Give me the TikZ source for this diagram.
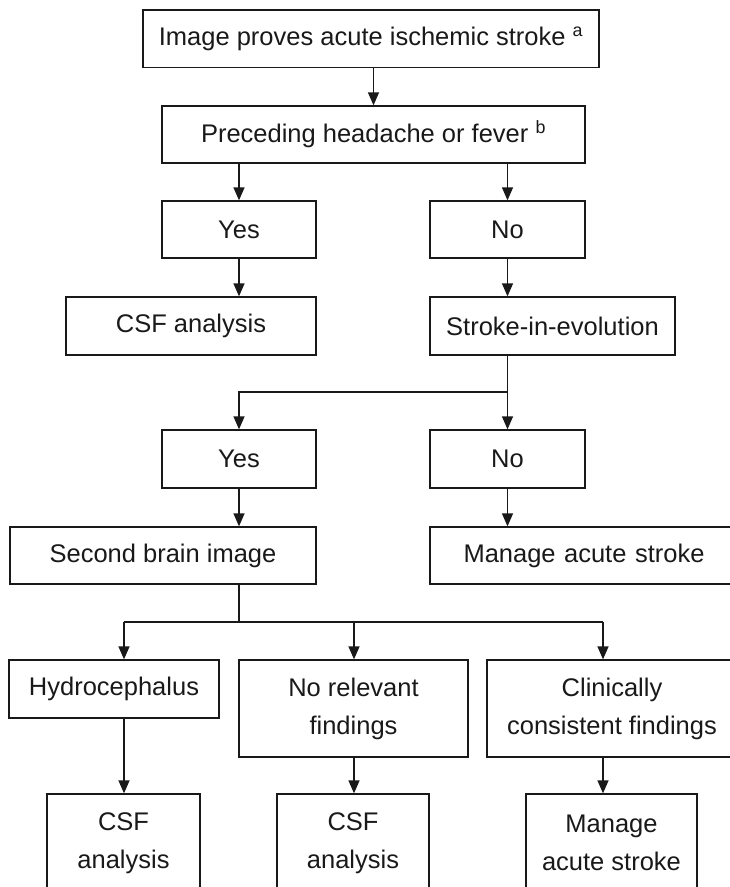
\documentclass[tikz,border=0pt]{standalone}
\usepackage{fontspec}
\setmainfont{Liberation Sans}
\usetikzlibrary{arrows.meta}
\begin{document}
\begin{tikzpicture}[x=1pt,y=-1pt,
  box/.style={draw=black!90, line width=1.3pt, align=center, inner sep=0pt,
    font=\fontsize{25.5}{38}\selectfont, text=black!90},
  arr/.style={draw=black!90, line width=1.3pt, -{Triangle[length=13pt,width=11pt]}},
  ln/.style={draw=black!90, line width=1.3pt}]
\useasboundingbox (0,0) rectangle (730,887);
\clip (0,0) rectangle (730,887);
\node[box, minimum width=456pt, minimum height=57.7pt] (top) at (371,38.8) {Image proves acute ischemic stroke \textsuperscript{a}};
\node[box, minimum width=423pt, minimum height=57pt] (pre) at (373.5,134.5) {Preceding headache or fever \textsuperscript{b}};
\node[box, minimum width=154pt, minimum height=57pt] (yes1) at (239,229.5) {Yes};
\node[box, minimum width=155pt, minimum height=57pt] (no1) at (507.5,229.5) {No};
\node[box, minimum width=250pt, minimum height=58pt] (csf1) at (191,326) {CSF analysis};
\node[box, minimum width=245pt, minimum height=58pt] (sie) at (552.5,326) {Stroke-in-evolution};
\node[box, minimum width=154pt, minimum height=58pt] (yes2) at (239,459) {Yes};
\node[box, minimum width=155pt, minimum height=58pt] (no2) at (507.5,459) {No};
\node[box, minimum width=306pt, minimum height=57pt] (sbi) at (163,555.5) {Second brain image};
\node[box, minimum width=320pt, minimum height=57pt, text width=320pt] (mas) at (590,555.5) {\hspace*{-12pt}Manage acute stroke};
\node[box, minimum width=210pt, minimum height=58pt] (hyd) at (114,689) {Hydrocephalus};
\node[box, minimum width=229pt, minimum height=97pt] (nrf) at (353.5,708.5) {No relevant\\findings};
\node[box, minimum width=250pt, minimum height=97pt] (ccf) at (612,708.5) {Clinically\\consistent findings};
\node[box, minimum width=153pt, minimum height=98pt] (csf2) at (123.5,843) {CSF\\analysis};
\node[box, minimum width=152pt, minimum height=98pt] (csf3) at (353,843) {CSF\\analysis};
\node[box, minimum width=171pt, minimum height=98pt] (mas2) at (611.5,843) {Manage\\acute stroke};
\coordinate (j1) at (507.5,392);
\coordinate (j2) at (239,622);
\coordinate (a1) at (124,622);
\coordinate (a2) at (354,622);
\coordinate (a3) at (603,622);
\draw[arr] (top.south -| pre) -- (pre.north);
\draw[arr] (pre.south -| yes1) -- (yes1.north);
\draw[arr] (pre.south -| no1) -- (no1.north);
\draw[arr] (yes1.south) -- (yes1.south |- csf1.north);
\draw[arr] (no1.south) -- (no1.south |- sie.north);
\draw[ln] (sie.south -| j1) -- (j1);
\draw[arr] (j1) -| (yes2.north);
\draw[arr] (j1) -- (no2.north);
\draw[arr] (yes2.south) -- (yes2.south |- sbi.north);
\draw[arr] (no2.south) -- (no2.south |- mas.north);
\draw[ln] (sbi.south -| j2) -- (j2);
\draw[ln] (a1) -- (a3);
\draw[arr] (a1) -- (a1 |- hyd.north);
\draw[arr] (a2) -- (a2 |- nrf.north);
\draw[arr] (a3) -- (a3 |- ccf.north);
\draw[arr] (a1 |- hyd.south) -- (a1 |- csf2.north);
\draw[arr] (a2 |- nrf.south) -- (a2 |- csf3.north);
\draw[arr] (a3 |- ccf.south) -- (a3 |- mas2.north);
\end{tikzpicture}
\end{document}
